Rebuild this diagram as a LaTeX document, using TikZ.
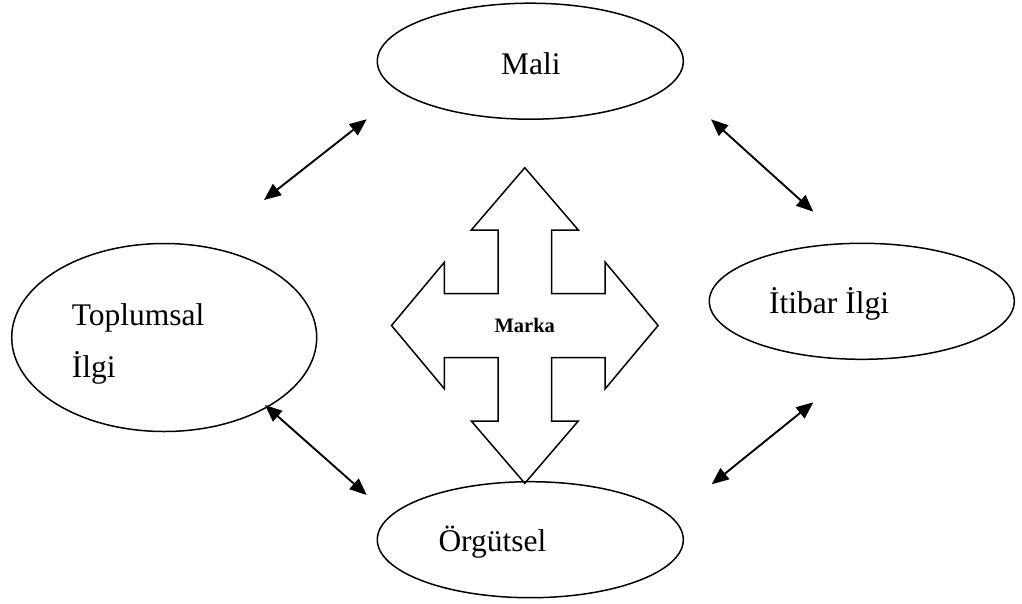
\documentclass[tikz,border=0pt]{standalone}
\usepackage{fontspec}
\setmainfont{Liberation Serif}
\usetikzlibrary{shapes.geometric,arrows.meta}

\tikzset{
  oval/.style={draw, ellipse, line width=1.5pt, inner sep=0pt,
               minimum width=306pt},
  label/.style={anchor=base west, inner sep=0pt,
                font=\fontsize{31.5}{38}\selectfont},
  link/.style={line width=1.9pt,
               {Triangle[length=17pt,width=14pt]}-{Triangle[length=17pt,width=14pt]}},
  cross/.style={draw, line width=1.5pt, line join=miter},
}

\begin{document}
\begin{tikzpicture}[x=1pt,y=-1pt]
  \useasboundingbox (0,0) rectangle (1022,603);

  % the four ellipses
  \node[oval, minimum height=116pt] (mali)     at (530.3,61.2)  {};
  \node[oval, minimum height=188pt, minimum width=305pt] (toplum) at (164.2,337.5) {};
  \node[oval, minimum height=116pt, minimum width=305pt] (itibar) at (861.8,301.3) {};
  \node[oval, minimum height=116pt] (orgut)    at (530.3,539.7) {};

  % their texts
  \node[label] (maliT)   at (501,74)     {Mali};
  \node[label] (toplumA) at (71.7,325)   {Toplumsal};
  \node[label] (toplumB) at (71.7,377.7) {İlgi};
  \node[label] (itibarT) at (769,313.3)  {İtibar İlgi};
  \node[label] (orgutT)  at (438.3,551)  {Örgütsel};

  % the four-headed block arrow in the middle
  \begin{scope}[shift={(524.8,325.5)}]
    \path[cross]
      (0,-157.8) -- (53.5,-95.5) -- (26.7,-95.5) -- (26.7,-32)
      -- (80.4,-32) -- (80.4,-63.3) -- (133.3,0) -- (80.4,63.3)
      -- (80.4,32) -- (26.7,32) -- (26.7,95.5) -- (53.5,95.5)
      -- (0,157.8) -- (-53.5,95.5) -- (-26.7,95.5) -- (-26.7,32)
      -- (-80.4,32) -- (-80.4,63.3) -- (-133.3,0) -- (-80.4,-63.3)
      -- (-80.4,-32) -- (-26.7,-32) -- (-26.7,-95.5) -- (-53.5,-95.5)
      -- cycle;
    \node[font=\bfseries\fontsize{20.5}{24}\selectfont, anchor=base, inner sep=0pt]
      (marka) at (0,6.8) {Marka};
  \end{scope}

  % ends of the double-headed links
  \coordinate (a1) at (366.7,119.3);
  \coordinate (b1) at (264,200);
  \coordinate (a2) at (711,119.3);
  \coordinate (b2) at (813.3,211.7);
  \coordinate (a3) at (265,405);
  \coordinate (b3) at (366.7,495);
  \coordinate (a4) at (813.3,402.3);
  \coordinate (b4) at (711.7,484.3);

  \draw[link] (a1) -- (b1);
  \draw[link] (a2) -- (b2);
  \draw[link] (a3) -- (b3);
  \draw[link] (a4) -- (b4);
\end{tikzpicture}
\end{document}
